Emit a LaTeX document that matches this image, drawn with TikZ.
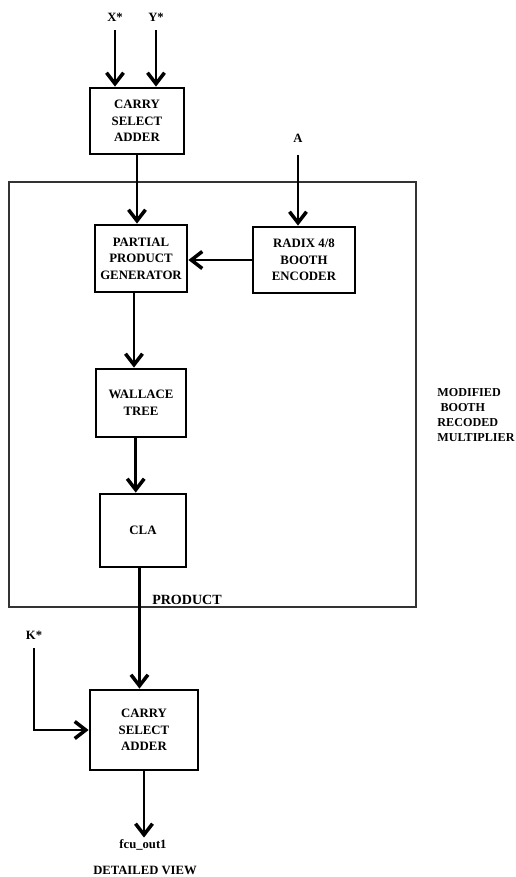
\documentclass[tikz,border=0pt]{standalone}
\usepackage{fontspec}
\setmainfont{Liberation Serif}
\usetikzlibrary{arrows.meta}
\tikzset{
  box/.style      = { rectangle, align=center, inner sep=1pt },
  border/.style   = { line width=1.6pt, draw=black },
  label/.style    = { font=\bfseries\fontsize{7.2}{9.4}\selectfont, inner sep=1pt },
}
\tikzset{
  block/.style={
    box,
    border,
    font=\bfseries\fontsize{7.3}{9.4}\selectfont
  },
  flow/.style     = { line width=1.6pt, draw=black, -{Straight Barb[length=2.2mm,width=3.4mm,line width=2pt]} },
  frame/.style    = { line width=0.6pt, draw=black!80 }
}
\begin{document}
\begin{tikzpicture}[x=0.02cm,y=-0.02cm]
  \useasboundingbox (0,0) rectangle (516,877);
  \draw [frame] (9,182) rectangle (416,607);

  \node (adder)   [block,minimum width=1.88cm,minimum height=1.32cm] at (137,121)   {CARRY\\SELECT\\ADDER};
  \node (partial) [block,minimum width=1.84cm,minimum height=1.34cm] at (141,258.5) {PARTIAL\\PRODUCT\\GENERATOR};
  \node (booth)   [block,minimum width=2.04cm,minimum height=1.32cm] at (304,260)   {RADIX 4/8\\BOOTH\\ENCODER};
  \node (wallace) [block,minimum width=1.80cm,minimum height=1.36cm] at (141,403)   {WALLACE\\TREE};
  \node (cla)     [block,minimum width=1.72cm,minimum height=1.46cm] at (143,530.5) {CLA};
  \node (final)   [block,minimum width=2.16cm,minimum height=1.60cm] at (144,730)   {CARRY\\SELECT\\ADDER};

  \node (xin)  [label] at (115,17)  {X*};
  \node (yin)  [label] at (156,17)  {Y*};
  \node (ain)  [label] at (298,138) {A};
  \node (kin)  [label] at (34,635)  {K*};
  \node (out)  [label] at (143,845) {fcu\_out1};
  \node (view) [label] at (145,870) {DETAILED VIEW};
  \node (product) [label,font=\bfseries\fontsize{8}{9.4}\selectfont,anchor=base] at (187,604) {PRODUCT};
  \node (unit) [label,font=\bfseries\fontsize{6.9}{8.6}\selectfont,align=left] at (476,415) {MODIFIED\\\ BOOTH\\RECODED\\MULTIPLIER};

  \draw [flow] ([yshift=-4pt]xin.south) -- (xin.south |- adder.north);
  \draw [flow] ([yshift=-4pt]yin.south) -- (yin.south |- adder.north);
  \draw [flow] (adder.south) -- (adder.south |- partial.north);
  \draw [flow] ([yshift=-6pt]ain.south) -- (ain.south |- booth.north);
  \draw [flow] (booth.west) -- (booth.west -| partial.east);
  \draw [flow] ([xshift=-4pt]partial.south) -- ([xshift=-4pt]partial.south |- wallace.north);
  \draw [flow] ([xshift=-3pt]wallace.south) -- ([xshift=-3pt]wallace.south |- cla.north);
  \draw [flow] ([xshift=-2pt]cla.south) -- ([xshift=-2pt]cla.south |- final.north);
  \draw [flow] ([yshift=-4pt]kin.south) |- (final.west);
  \draw [flow] (final.south) -- (final.south |- out.north);
\end{tikzpicture}
\end{document}
